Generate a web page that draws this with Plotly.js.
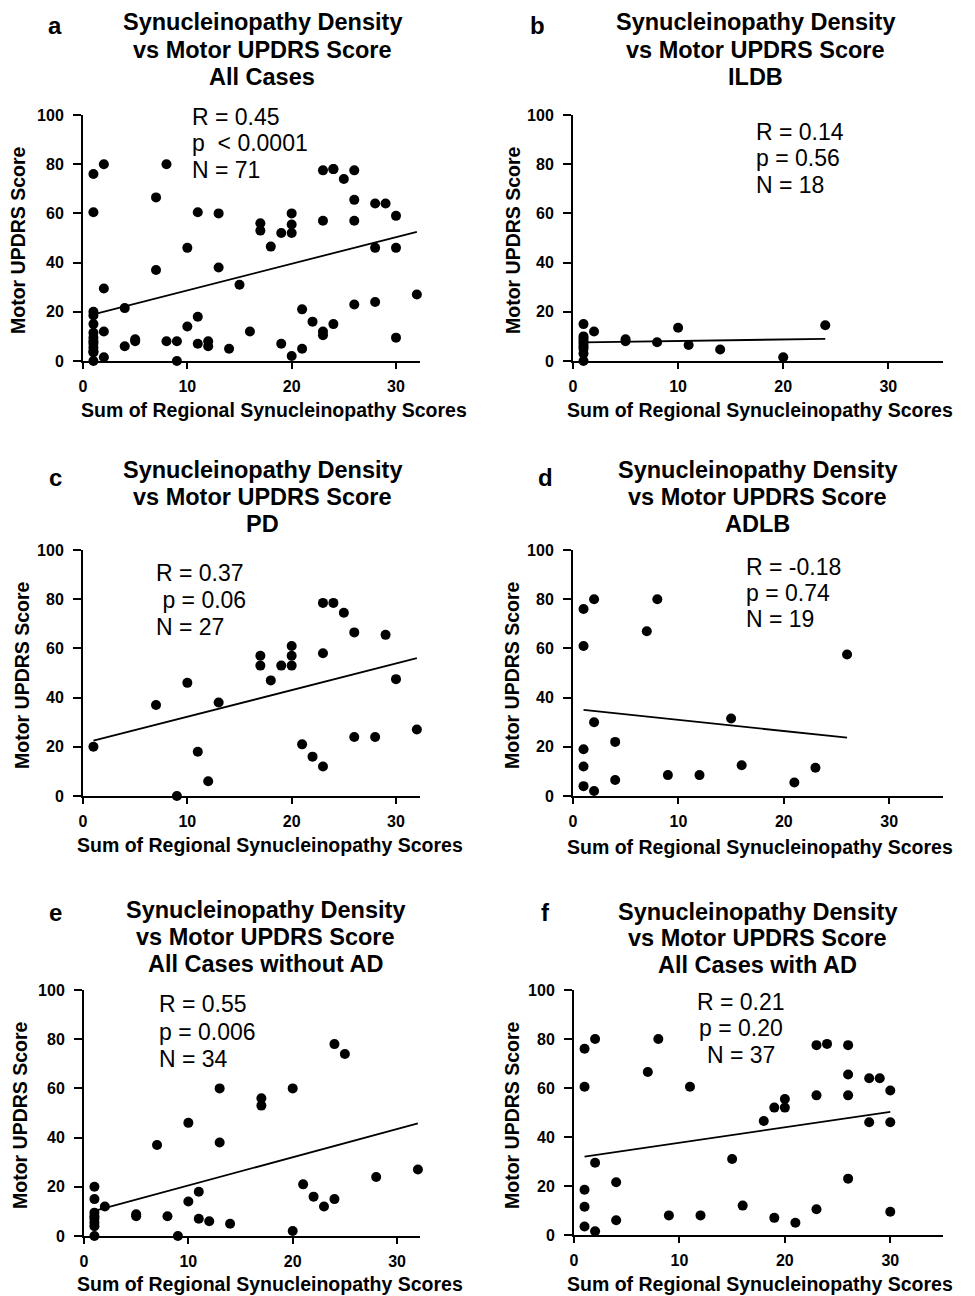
<!DOCTYPE html>
<html><head><meta charset="utf-8">
<script src="https://cdn.plot.ly/plotly-3.0.1.min.js"></script>
<style>body{margin:0;background:#fff}#chart{width:975px;height:1296px}</style>
</head><body><div id="chart"></div>
<script>
// ---------- DATA ----------
const panelLetters = ['a', 'b', 'c', 'd', 'e', 'f'];
const titleLine1 = 'Synucleinopathy Density';
const titleLine2 = 'vs Motor UPDRS Score';
const panelSubtitles = ['All Cases', 'ILDB', 'PD', 'ADLB', 'All Cases without AD', 'All Cases with AD'];
const statR = ['R = 0.45', 'R = 0.14', 'R = 0.37', 'R = -0.18', 'R = 0.55', 'R = 0.21'];
const statP = ['p  < 0.0001', 'p = 0.56', ' p = 0.06', 'p = 0.74', 'p = 0.006', 'p = 0.20'];
const statN = ['N = 71', 'N = 18', 'N = 27', 'N = 19', 'N = 34', 'N = 37'];
const xTitle = 'Sum of Regional Synucleinopathy Scores';
const yTitle = 'Motor UPDRS Score';
const xTicks = [0, 10, 20, 30];
const yTicks = [0, 20, 40, 60, 80, 100];

// ILDB
const ildbX = [1, 1, 1, 1, 1, 1, 1, 1, 1, 2, 5, 5, 8, 10, 11, 14, 20, 24];
const ildbY = [15, 10, 9, 8, 7, 6, 5, 3, 0, 12, 8.8, 8, 7.6, 13.5, 6.5, 4.7, 1.5, 14.5];
// PD
const pdX = [1, 7, 9, 10, 11, 12, 13, 17, 17, 18, 19, 20, 20, 20, 21, 22, 23, 23, 23, 24, 25, 26, 26, 28, 29, 30, 32];
const pdY = [20, 37, 0, 46, 18, 6, 38, 57, 53, 47, 53, 61, 57, 53, 21, 16, 12, 58, 78.5, 78.5, 74.5, 66.5, 24, 24, 65.5, 47.5, 27];
// ADLB
const adlbX = [1, 1, 1, 1, 1, 2, 2, 2, 4, 4, 7, 8, 9, 12, 15, 16, 21, 23, 26];
const adlbY = [76, 61, 19, 12, 4, 80, 30, 2, 22, 6.5, 67, 80, 8.5, 8.5, 31.5, 12.5, 5.5, 11.5, 57.5];
// All cases without AD
const noAdX = [1, 1, 1, 1, 1, 1, 1, 1, 2, 5, 5, 7, 8, 9, 10, 10, 11, 11, 12, 13, 13, 14, 17, 17, 20, 20, 21, 22, 23, 24, 24, 25, 28, 32];
const noAdY = [20, 15, 9.5, 8, 7, 5.5, 4, 0, 12, 8.8, 8, 37, 8, 0, 14, 46, 18, 7, 6, 60, 38, 5, 56, 53, 60, 2, 21, 16, 12, 15, 78, 74, 24, 27];
// All cases with AD
const adX = [1, 1, 1, 1, 1, 2, 2, 2, 4, 4, 7, 8, 9, 11, 12, 15, 16, 18, 19, 19, 20, 20, 21, 23, 23, 23, 24, 26, 26, 26, 26, 28, 28, 29, 30, 30, 30];
const adY = [76, 60.5, 18.5, 11.5, 3.5, 80, 29.5, 1.5, 21.5, 6, 66.5, 80, 8, 60.5, 8, 31, 12, 46.5, 52, 7, 55.5, 52, 5, 77.5, 57, 10.5, 78, 77.5, 65.5, 57, 23, 64, 46, 64, 59, 46, 9.5];
// All cases = without AD + with AD
const allX = noAdX.concat(adX);
const allY = noAdY.concat(adY);

// Regression lines (start / end)
const fitX0 = [1, 1, 1, 1, 1, 1];
const fitX1 = [32, 24, 32, 26, 32, 30];
const fitY0 = [19, 7.6, 22.5, 35, 10.2, 32];
const fitY1 = [52.5, 9, 56, 23.7, 45.8, 50.3];

const seriesX = [allX, ildbX, pdX, adlbX, noAdX, adX];
const seriesY = [allY, ildbY, pdY, adlbY, noAdY, adY];

// ---------- LAYOUT (pixels) ----------
const W = 975, H = 1296;
const FONT = 'Liberation Sans, Arial, Helvetica, sans-serif';
const geom = [
  {px0: 83, px1: 420, xmax: 32.3, py0: 361, py1: 115},
  {px0: 573, px1: 943, xmax: 35.2, py0: 361, py1: 115},
  {px0: 83, px1: 420, xmax: 32.3, py0: 796, py1: 550},
  {px0: 573, px1: 943, xmax: 35.1, py0: 796, py1: 550},
  {px0: 84, px1: 420, xmax: 32.2, py0: 1236, py1: 990},
  {px0: 574, px1: 943, xmax: 35.0, py0: 1235, py1: 990}
];
const titlePos = [
  {x: 262, y: [22, 50, 77]}, {x: 755, y: [22, 50, 77]},
  {x: 262, y: [470, 497, 524]}, {x: 757, y: [470, 497, 524]},
  {x: 265, y: [910, 937, 964]}, {x: 757, y: [912, 938, 965]}
];
const letterPos = [[55, 25], [537, 25], [55, 478], [545, 478], [55, 912], [545, 912]];
const statPos = [
  {x: 190, anchor: 'left', y: [117, 143, 170]},
  {x: 754, anchor: 'left', y: [132, 158, 185]},
  {x: 154, anchor: 'left', y: [573, 600, 627]},
  {x: 744, anchor: 'left', y: [567, 593, 619]},
  {x: 157, anchor: 'left', y: [1004, 1032, 1059]},
  {x: 741, anchor: 'center', y: [1002, 1028, 1055]}
];
const xTitlePos = [[274, 410], [760, 410], [270, 845], [760, 847], [270, 1284], [760, 1284]];
const yTitlePos = [[18, 240], [513, 240], [22, 675], [512, 675], [20, 1115], [512, 1115]];

const px = v => v / W;
const py = v => 1 - v / H;

const traces = [];
const layout = {
  width: W, height: H,
  margin: {l: 0, r: 0, t: 0, b: 0},
  paper_bgcolor: '#fff', plot_bgcolor: 'rgba(0,0,0,0)',
  showlegend: false,
  font: {family: FONT, color: '#000'},
  annotations: []
};

const ann = (x, y, text, size, bold, xanchor, extra) => Object.assign({
  xref: 'paper', yref: 'paper', x: px(x), y: py(y), text: text,
  showarrow: false, xanchor: xanchor || 'center', yanchor: 'middle',
  font: {family: FONT, size: size, color: '#000', weight: bold ? 'bold' : 'normal'}
}, extra || {});

for (let i = 0; i < 6; i++) {
  const g = geom[i];
  const xa = i === 0 ? 'x' : 'x' + (i + 1);
  const ya = i === 0 ? 'y' : 'y' + (i + 1);
  const xk = i === 0 ? 'xaxis' : 'xaxis' + (i + 1);
  const yk = i === 0 ? 'yaxis' : 'yaxis' + (i + 1);

  traces.push({
    type: 'scatter', mode: 'markers', x: seriesX[i], y: seriesY[i],
    xaxis: xa, yaxis: ya, cliponaxis: false,
    marker: {size: 10, color: '#000', line: {width: 0}}
  });
  traces.push({
    type: 'scatter', mode: 'lines', x: [fitX0[i], fitX1[i]], y: [fitY0[i], fitY1[i]],
    xaxis: xa, yaxis: ya, cliponaxis: false,
    line: {color: '#000', width: 1.8}
  });

  layout[xk] = {
    domain: [px(g.px0), px(g.px1)], anchor: ya, range: [0, g.xmax],
    tickvals: xTicks, ticktext: xTicks.map(String),
    ticks: 'outside', ticklen: 6, tickwidth: 2, tickcolor: '#000',
    showline: true, linewidth: 2, linecolor: '#000',
    showgrid: false, zeroline: false, fixedrange: true,
    ticklabelstandoff: 4,
    tickfont: {family: FONT, size: 16, color: '#000', weight: 'bold'}
  };
  layout[yk] = {
    domain: [py(g.py0), py(g.py1)], anchor: xa, range: [0, 100],
    tickvals: yTicks, ticktext: yTicks.map(String),
    ticks: 'outside', ticklen: 8, tickwidth: 2, tickcolor: '#000',
    showline: true, linewidth: 2, linecolor: '#000',
    showgrid: false, zeroline: false, fixedrange: true,
    ticklabelstandoff: 6,
    tickfont: {family: FONT, size: 16, color: '#000', weight: 'bold'}
  };

  const tp = titlePos[i];
  layout.annotations.push(ann(tp.x, tp.y[0], titleLine1, 23.5, true));
  layout.annotations.push(ann(tp.x, tp.y[1], titleLine2, 23.5, true));
  layout.annotations.push(ann(tp.x, tp.y[2], panelSubtitles[i], 23.5, true));
  layout.annotations.push(ann(letterPos[i][0], letterPos[i][1], panelLetters[i], 24, true));

  const sp = statPos[i];
  const stats = [statR[i], statP[i], statN[i]];
  for (let k = 0; k < 3; k++) {
    layout.annotations.push(ann(sp.x, sp.y[k], stats[k].replace(/ /g, '&nbsp;'), 23, false, sp.anchor));
  }
  layout.annotations.push(ann(xTitlePos[i][0], xTitlePos[i][1], xTitle, 19.5, true));
  layout.annotations.push(ann(yTitlePos[i][0], yTitlePos[i][1], yTitle, 19.5, true, 'center', {textangle: -90}));
}

Plotly.newPlot('chart', traces, layout, {staticPlot: true, displayModeBar: false});
</script>
</body></html>
